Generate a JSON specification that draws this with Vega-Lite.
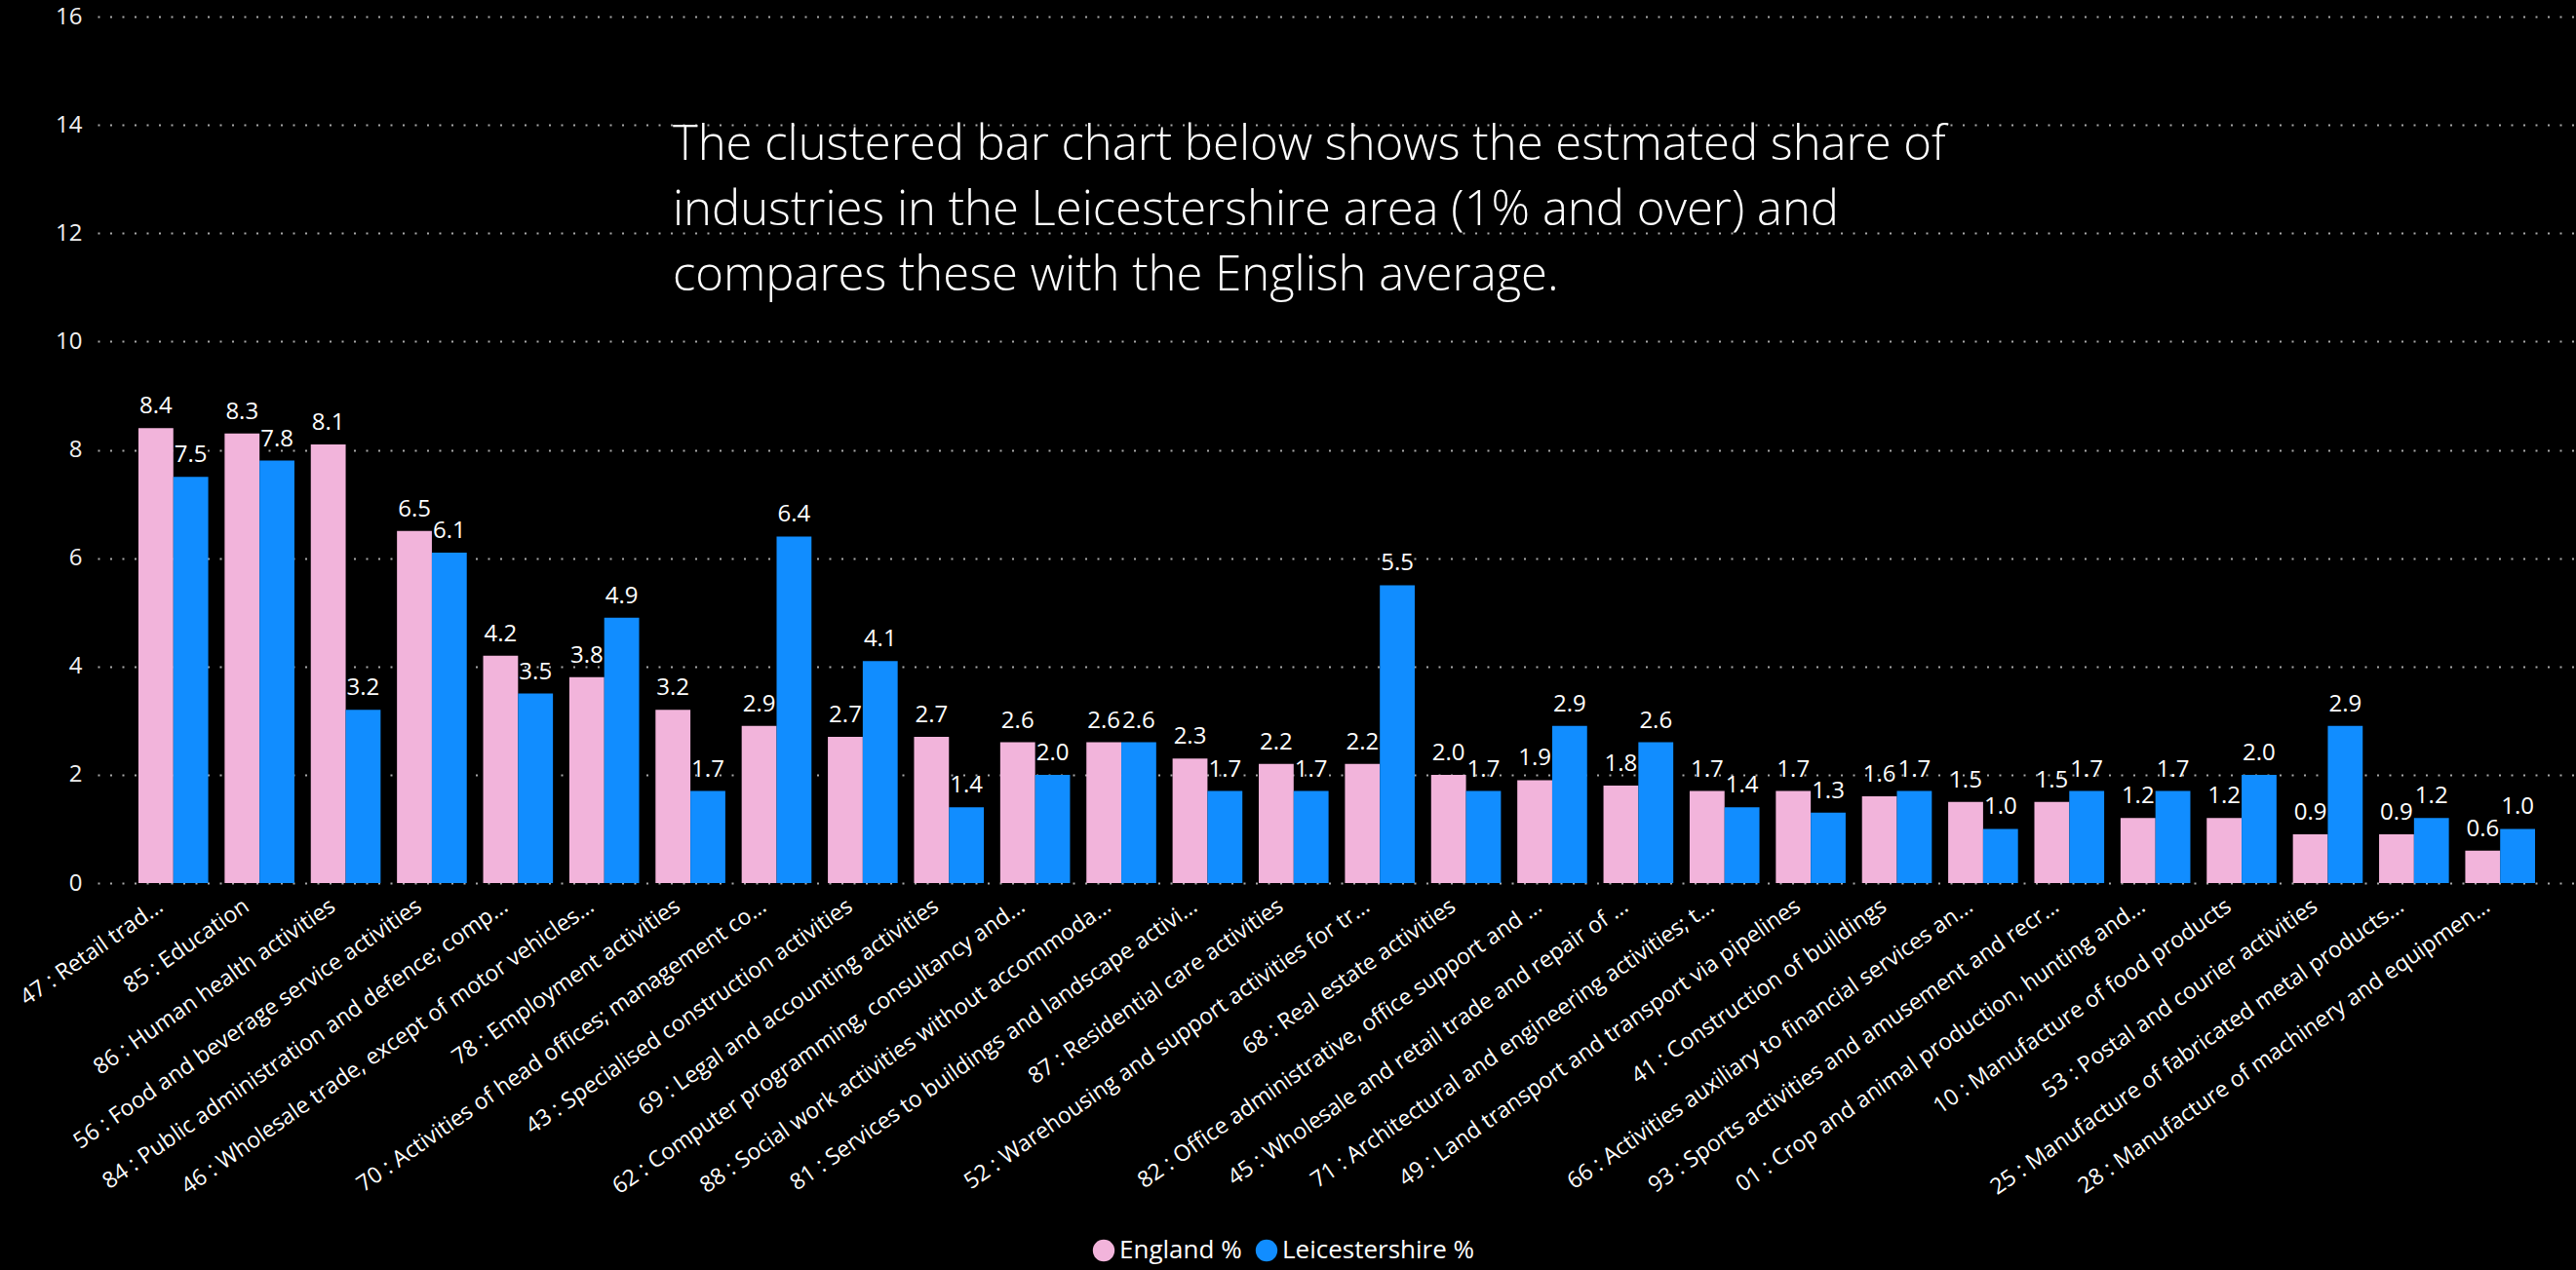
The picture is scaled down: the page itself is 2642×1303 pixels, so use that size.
{
  "$schema": "https://vega.github.io/schema/vega-lite/v6.json",
  "width": 2542,
  "height": 889,
  "autosize": {"type": "none"},
  "padding": {"left": 100, "top": 17, "right": 0, "bottom": 397},
  "background": "#000000",
  "title": {
    "text": ["The clustered bar chart below shows the estmated share of", "industries in the Leicestershire area (1% and over) and", "compares these with the English average."],
    "anchor": "start",
    "frame": "group",
    "orient": "top",
    "dx": 590,
    "dy": 346,
    "baseline": "alphabetic",
    "fontSize": 49,
    "lineHeight": 67,
    "font": "Open Sans",
    "fontWeight": 300,
    "color": "#FFFFFF"
  },
  "data": {
    "values": [
      {"industry": "47 : Retail trad...", "series": "England %", "value": 8.4},
      {"industry": "47 : Retail trad...", "series": "Leicestershire %", "value": 7.5},
      {"industry": "85 : Education", "series": "England %", "value": 8.3},
      {"industry": "85 : Education", "series": "Leicestershire %", "value": 7.8},
      {"industry": "86 : Human health activities", "series": "England %", "value": 8.1},
      {"industry": "86 : Human health activities", "series": "Leicestershire %", "value": 3.2},
      {"industry": "56 : Food and beverage service activities", "series": "England %", "value": 6.5},
      {"industry": "56 : Food and beverage service activities", "series": "Leicestershire %", "value": 6.1},
      {"industry": "84 : Public administration and defence; comp...", "series": "England %", "value": 4.2},
      {"industry": "84 : Public administration and defence; comp...", "series": "Leicestershire %", "value": 3.5},
      {"industry": "46 : Wholesale trade, except of motor vehicles...", "series": "England %", "value": 3.8},
      {"industry": "46 : Wholesale trade, except of motor vehicles...", "series": "Leicestershire %", "value": 4.9},
      {"industry": "78 : Employment activities", "series": "England %", "value": 3.2},
      {"industry": "78 : Employment activities", "series": "Leicestershire %", "value": 1.7},
      {"industry": "70 : Activities of head offices; management co...", "series": "England %", "value": 2.9},
      {"industry": "70 : Activities of head offices; management co...", "series": "Leicestershire %", "value": 6.4},
      {"industry": "43 : Specialised construction activities", "series": "England %", "value": 2.7},
      {"industry": "43 : Specialised construction activities", "series": "Leicestershire %", "value": 4.1},
      {"industry": "69 : Legal and accounting activities", "series": "England %", "value": 2.7},
      {"industry": "69 : Legal and accounting activities", "series": "Leicestershire %", "value": 1.4},
      {"industry": "62 : Computer programming, consultancy and...", "series": "England %", "value": 2.6},
      {"industry": "62 : Computer programming, consultancy and...", "series": "Leicestershire %", "value": 2.0},
      {"industry": "88 : Social work activities without accommoda...", "series": "England %", "value": 2.6},
      {"industry": "88 : Social work activities without accommoda...", "series": "Leicestershire %", "value": 2.6},
      {"industry": "81 : Services to buildings and landscape activi...", "series": "England %", "value": 2.3},
      {"industry": "81 : Services to buildings and landscape activi...", "series": "Leicestershire %", "value": 1.7},
      {"industry": "87 : Residential care activities", "series": "England %", "value": 2.2},
      {"industry": "87 : Residential care activities", "series": "Leicestershire %", "value": 1.7},
      {"industry": "52 : Warehousing and support activities for tr...", "series": "England %", "value": 2.2},
      {"industry": "52 : Warehousing and support activities for tr...", "series": "Leicestershire %", "value": 5.5},
      {"industry": "68 : Real estate activities", "series": "England %", "value": 2.0},
      {"industry": "68 : Real estate activities", "series": "Leicestershire %", "value": 1.7},
      {"industry": "82 : Office administrative, office support and ...", "series": "England %", "value": 1.9},
      {"industry": "82 : Office administrative, office support and ...", "series": "Leicestershire %", "value": 2.9},
      {"industry": "45 : Wholesale and retail trade and repair of ...", "series": "England %", "value": 1.8},
      {"industry": "45 : Wholesale and retail trade and repair of ...", "series": "Leicestershire %", "value": 2.6},
      {"industry": "71 : Architectural and engineering activities; t...", "series": "England %", "value": 1.7},
      {"industry": "71 : Architectural and engineering activities; t...", "series": "Leicestershire %", "value": 1.4},
      {"industry": "49 : Land transport and transport via pipelines", "series": "England %", "value": 1.7},
      {"industry": "49 : Land transport and transport via pipelines", "series": "Leicestershire %", "value": 1.3},
      {"industry": "41 : Construction of buildings", "series": "England %", "value": 1.6},
      {"industry": "41 : Construction of buildings", "series": "Leicestershire %", "value": 1.7},
      {"industry": "66 : Activities auxiliary to financial services an...", "series": "England %", "value": 1.5},
      {"industry": "66 : Activities auxiliary to financial services an...", "series": "Leicestershire %", "value": 1.0},
      {"industry": "93 : Sports activities and amusement and recr...", "series": "England %", "value": 1.5},
      {"industry": "93 : Sports activities and amusement and recr...", "series": "Leicestershire %", "value": 1.7},
      {"industry": "01 : Crop and animal production, hunting and...", "series": "England %", "value": 1.2},
      {"industry": "01 : Crop and animal production, hunting and...", "series": "Leicestershire %", "value": 1.7},
      {"industry": "10 : Manufacture of food products", "series": "England %", "value": 1.2},
      {"industry": "10 : Manufacture of food products", "series": "Leicestershire %", "value": 2.0},
      {"industry": "53 : Postal and courier activities", "series": "England %", "value": 0.9},
      {"industry": "53 : Postal and courier activities", "series": "Leicestershire %", "value": 2.9},
      {"industry": "25 : Manufacture of fabricated metal products...", "series": "England %", "value": 0.9},
      {"industry": "25 : Manufacture of fabricated metal products...", "series": "Leicestershire %", "value": 1.2},
      {"industry": "28 : Manufacture of machinery and equipmen...", "series": "England %", "value": 0.6},
      {"industry": "28 : Manufacture of machinery and equipmen...", "series": "Leicestershire %", "value": 1.0}
    ]
  },
  "encoding": {
    "x": {
      "field": "industry",
      "type": "nominal",
      "sort": null,
      "title": null,
      "scale": {"paddingInner": 0.19, "paddingOuter": 0.475},
      "axis": {
        "labelAngle": -35,
        "labelAlign": "right",
        "labelBaseline": "middle",
        "labelPadding": 21,
        "labelOffset": -13,
        "labelFontSize": 23,
        "labelFont": "Open Sans",
        "labelColor": "#FFFFFF",
        "labelLimit": 0,
        "labelOverlap": false,
        "ticks": false,
        "domain": false,
        "grid": false
      }
    },
    "xOffset": {"field": "series", "type": "nominal", "scale": {"paddingInner": 0, "paddingOuter": 0}},
    "y": {
      "field": "value",
      "type": "quantitative",
      "title": null,
      "scale": {"domain": [0, 16], "nice": false},
      "axis": {
        "values": [0, 2, 4, 6, 8, 10, 12, 14, 16],
        "labelFontSize": 24,
        "labelFont": "Open Sans",
        "labelColor": "#F0F0F0",
        "labelPadding": 16,
        "ticks": false,
        "domain": false,
        "grid": true,
        "gridColor": "#A8A8A8",
        "gridWidth": 2,
        "gridDash": [2, 10.5]
      }
    }
  },
  "layer": [
    {
      "mark": {"type": "bar"},
      "encoding": {
        "color": {
          "field": "series",
          "type": "nominal",
          "scale": {"domain": ["England %", "Leicestershire %"], "range": ["#F2B4DB", "#118DFF"]},
          "legend": {
            "title": null,
            "orient": "none",
            "legendX": 1019,
            "legendY": 1253,
            "direction": "horizontal",
            "symbolType": "circle",
            "symbolSize": 500,
            "symbolStrokeWidth": 0,
            "labelFontSize": 26,
            "labelFont": "Open Sans",
            "labelColor": "#FFFFFF",
            "labelLimit": 0,
            "labelOffset": 3,
            "columnPadding": 12
          }
        }
      }
    },
    {
      "mark": {"type": "text", "baseline": "alphabetic", "dy": -15, "fontSize": 24, "font": "Open Sans", "color": "#FFFFFF"},
      "encoding": {
        "text": {"field": "value", "type": "quantitative", "format": ".1f"}
      }
    }
  ],
  "config": {
    "view": {"stroke": null},
    "legend": {"symbolFillOpacity": 1}
  }
}
